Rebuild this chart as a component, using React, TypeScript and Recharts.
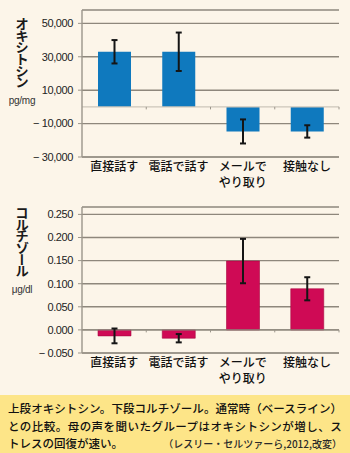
import { BarChart, Bar, XAxis, YAxis, CartesianGrid, ErrorBar, ReferenceLine } from "recharts"

// ---- data ----
const categories = ["直接話す", "電話で話す", "メールで\nやり取り", "接触なし"]

const oxytocin = [33000, 33000, -14700, -14700]
const oxytocinErr = [7000, 11500, 7200, 3700]
const oxytocinTicks = [-30000, -10000, 10000, 30000, 50000]

const cortisol = [-0.013, -0.018, 0.149, 0.089]
const cortisolErr = [0.016, 0.009, 0.048, 0.025]
const cortisolTicks = [-0.05, 0, 0.05, 0.1, 0.15, 0.2, 0.25]

const oxyData = categories.map((name, i) => ({ name, value: oxytocin[i], err: oxytocinErr[i] }))
const cortData = categories.map((name, i) => ({ name, value: cortisol[i], err: cortisolErr[i] }))

const BG = "#fcf5e9"
const AXIS = "#9b958a"
const GRID = "#8e877c"
const BLUE = "#0f79be"
const RED = "#cf0a55"
const NUM_FONT = "'Liberation Sans', Arial, sans-serif"
const JP_FONT = "'Noto Sans CJK JP', sans-serif"

const fmtOxy = (v: number) => (v < 0 ? "− " : "") + Math.abs(v).toLocaleString("en-US")
const fmtCort = (v: number) => (v < 0 ? "− " : "") + Math.abs(v).toFixed(3)

// category label, may be split on two lines
function CatTick(props: any) {
  const { x, y, payload } = props
  const lines = String(payload.value).split("\n")
  return (
    <g transform={`translate(${x},${y})`}>
      {lines.map((l, i) => (
        <text key={i} x={0} y={0} dy={14 + i * 15.5} textAnchor="middle"
          fill="#111" fontSize={12} fontWeight={500} fontFamily={JP_FONT}>
          {l}
        </text>
      ))}
    </g>
  )
}

// zero baseline with small marks between categories
function ZeroLine(props: any) {
  const { x1, x2, y1, stroke, strokeWidth } = props
  if (x1 == null) return null
  const step = (x2 - x1) / categories.length
  return (
    <g>
      <line x1={x1} x2={x2} y1={y1} y2={y1} stroke={stroke} strokeWidth={strokeWidth} />
      {categories.map((_, i) => (
        <line key={i} x1={x1 + step * (i + 1)} x2={x1 + step * (i + 1)} y1={y1} y2={y1 + 2.5}
          stroke={AXIS} strokeWidth={1} />
      ))}
    </g>
  )
}

const tickStyle = { fontSize: 11, fill: "#222", fontFamily: NUM_FONT, letterSpacing: -0.4 }

function VTitle({ text, unit, top, unitTop }: { text: string; unit: string; top: number; unitTop: number }) {
  return (
    <>
      <div style={{
        position: "absolute", left: 15, top, writingMode: "vertical-rl",
        fontFamily: JP_FONT, fontWeight: 700, fontSize: 13.5, letterSpacing: -1.8,
        lineHeight: "14px", color: "#1a1a1a",
      }}>{text}</div>
      <div style={{
        position: "absolute", left: 0, width: 44, top: unitTop, textAlign: "center",
        fontFamily: NUM_FONT, fontSize: 10, color: "#333", letterSpacing: -0.3,
      }}>{unit}</div>
    </>
  )
}

export default function App() {
  return (
    <div style={{ position: "absolute", left: 0, top: 0, width: 350, height: 453, background: BG, overflow: "hidden" }}>
      <VTitle text="オキシトシン" unit="pg/mg" top={17} unitTop={95} />
      <VTitle text="コルチゾール" unit="μg/dl" top={206} unitTop={284} />

      <div style={{ position: "absolute", left: 0, top: 0 }}>
        <BarChart width={350} height={195} data={oxyData} margin={{ top: 10, right: 11, left: 0, bottom: 0 }} barSize={33}>
          <CartesianGrid vertical={false} stroke={GRID} strokeWidth={1.4} />
          <XAxis dataKey="name" height={38} tick={<CatTick />} tickLine={false} tickSize={0} tickMargin={0}
            axisLine={{ stroke: AXIS, strokeWidth: 1.4 }} interval={0} />
          <YAxis width={82} domain={[-30000, 58000]} ticks={oxytocinTicks} tickFormatter={fmtOxy}
            tick={tickStyle} tickSize={4} tickMargin={5} tickLine={{ stroke: AXIS }}
            axisLine={{ stroke: AXIS, strokeWidth: 1.4 }} allowDataOverflow />
          <ReferenceLine y={0} stroke="#cdc6ba" strokeWidth={1.2} shape={<ZeroLine />} />
          <Bar dataKey="value" fill={BLUE} isAnimationActive={false}>
            <ErrorBar dataKey="err" width={3} strokeWidth={2} stroke="#151515" isAnimationActive={false} />
          </Bar>
        </BarChart>
      </div>

      <div style={{ position: "absolute", left: 0, top: 195 }}>
        <BarChart width={350} height={200} data={cortData} margin={{ top: 12, right: 11, left: 0, bottom: 0 }} barSize={33}>
          <CartesianGrid vertical={false} stroke={GRID} strokeWidth={1.4} />
          <XAxis dataKey="name" height={42} tick={<CatTick />} tickLine={false} tickSize={0} tickMargin={0}
            axisLine={{ stroke: AXIS, strokeWidth: 1.4 }} interval={0} />
          <YAxis width={82} domain={[-0.05, 0.266]} ticks={cortisolTicks} tickFormatter={fmtCort}
            tick={tickStyle} tickSize={4} tickMargin={5} tickLine={{ stroke: AXIS }}
            axisLine={{ stroke: AXIS, strokeWidth: 1.4 }} allowDataOverflow />
          <ReferenceLine y={0} stroke={GRID} strokeWidth={1.4} shape={<ZeroLine />} />
          <Bar dataKey="value" fill={RED} stroke="#a8063f" strokeWidth={0.6} isAnimationActive={false}>
            <ErrorBar dataKey="err" width={3} strokeWidth={2} stroke="#151515" isAnimationActive={false} />
          </Bar>
        </BarChart>
      </div>

      <div style={{
        position: "absolute", left: 0, top: 395, width: 350, height: 58, background: "#fde588",
        boxSizing: "border-box", padding: "5px 8px 0 8px", fontFamily: JP_FONT, color: "#111",
        fontSize: 11.5, fontWeight: 500, lineHeight: "17.5px",
      }}>
        <div style={{ textAlign: "justify", textAlignLast: "justify", whiteSpace: "nowrap" }}>
          上段オキシトシン。下段コルチゾール。通常時（ベースライン）
        </div>
        <div style={{ textAlign: "justify", textAlignLast: "justify", whiteSpace: "nowrap", letterSpacing: 0.35 }}>
          との比較。母の声を聞いたグループはオキシトシンが増し、ス
        </div>
        <div style={{ display: "flex", justifyContent: "space-between", alignItems: "baseline" }}>
          <span>トレスの回復が速い。</span>
          <span style={{ fontSize: 10, color: "#2a2a2a" }}>（レスリー・セルツァーら,2012,改変）</span>
        </div>
      </div>
    </div>
  )
}
